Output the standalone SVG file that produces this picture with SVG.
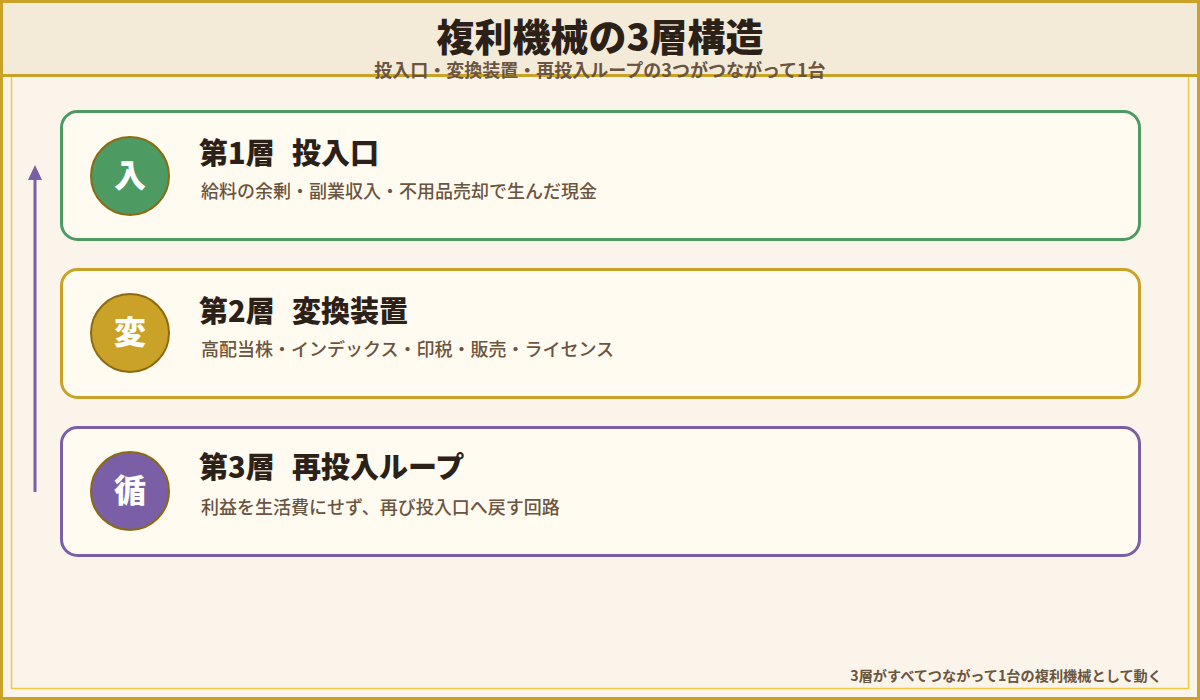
<svg xmlns="http://www.w3.org/2000/svg" width="1200" height="700" viewBox="0 0 1200 700">
<defs>
<style>
.jp{font-family:"Noto Sans CJK JP","Noto Sans",sans-serif}
.card{fill:#FFFBF0;stroke-width:3}
.badge{stroke:#8B6A10;stroke-width:2}
.badgeText{fill:#FFFFFF;font-size:32px;font-weight:900;text-anchor:middle}
.ttl{fill:#2B2118;font-size:29px;font-weight:900}
.desc{fill:#6B5440;font-size:18px;font-weight:500}
</style>
</defs>
<rect x="0" y="0" width="1200" height="700" fill="#FAF4EA"/>
<rect x="11.5" y="11.5" width="1177" height="677" fill="none" stroke="#EFCB45" stroke-width="1.5"/>
<rect x="0" y="0" width="1200" height="75" fill="#F3EBD8"/>
<line x1="0" y1="75.5" x2="1200" y2="75.5" stroke="#C9A227" stroke-width="3"/>
<rect x="1.5" y="1.5" width="1197" height="697" fill="none" stroke="#C9A227" stroke-width="3"/>
<g id="header">
<text class="jp" x="600" y="51" text-anchor="middle" font-size="38" font-weight="900" fill="#2B2118">複利機械の3層構造</text>
<text class="jp" x="600" y="77" text-anchor="middle" font-size="18" font-weight="700" fill="#6B5440">投入口・変換装置・再投入ループの3つがつながって1台</text>
</g>
<g id="connectors">
<line x1="35" y1="492" x2="35" y2="178" stroke="#7A5EA6" stroke-width="3"/>
<polygon points="35,165 28,180 42,180" fill="#7A5EA6"/>
</g>
<g id="layer1">
<rect class="card" x="61.5" y="111.5" width="1078" height="128" rx="16" stroke="#4E9A63"/>
<circle class="badge" cx="130" cy="176" r="39" fill="#4E9A63"/>
<text class="jp badgeText" x="130" y="187">入</text>
<text class="jp ttl" x="199" y="164">第1層</text>
<text class="jp ttl" x="292" y="164">投入口</text>
<text class="jp desc" x="201" y="198">給料の余剰・副業収入・不用品売却で生んだ現金</text>
</g>
<g id="layer2">
<rect class="card" x="61.5" y="269.5" width="1078" height="128" rx="16" stroke="#C9A227"/>
<circle class="badge" cx="130" cy="333" r="39" fill="#C9A227"/>
<text class="jp badgeText" x="130" y="344">変</text>
<text class="jp ttl" x="199" y="322">第2層</text>
<text class="jp ttl" x="292" y="322">変換装置</text>
<text class="jp desc" x="201" y="356">高配当株・インデックス・印税・販売・ライセンス</text>
</g>
<g id="layer3">
<rect class="card" x="61.5" y="427.5" width="1078" height="128" rx="16" stroke="#7A5EA6"/>
<circle class="badge" cx="130" cy="491" r="39" fill="#7A5EA6"/>
<text class="jp badgeText" x="130" y="502">循</text>
<text class="jp ttl" x="199" y="478">第3層</text>
<text class="jp ttl" x="292" y="478">再投入ループ</text>
<text class="jp desc" x="201" y="514">利益を生活費にせず、再び投入口へ戻す回路</text>
</g>
<g id="footer">
<text class="jp" x="1162" y="681" text-anchor="end" font-size="14.2" font-weight="700" fill="#6B5440">3層がすべてつながって1台の複利機械として動く</text>
</g>
</svg>
